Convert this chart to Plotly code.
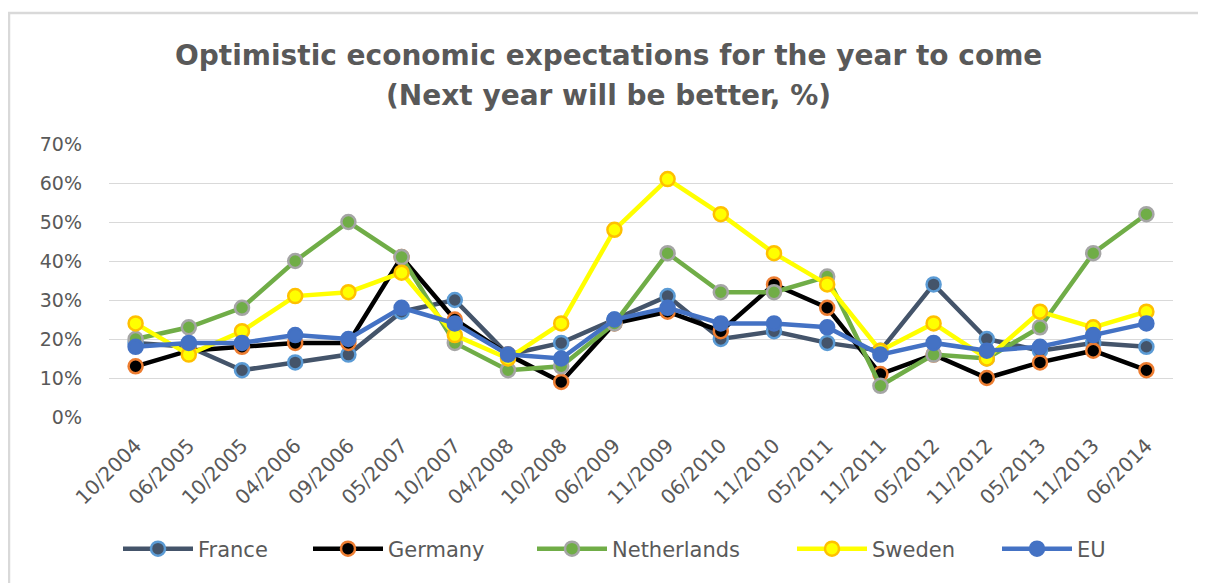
import plotly.graph_objects as go

categories = ["10/2004", "06/2005", "10/2005", "04/2006", "09/2006", "05/2007", "10/2007",
              "04/2008", "10/2008", "06/2009", "11/2009", "06/2010", "11/2010", "05/2011",
              "11/2011", "05/2012", "11/2012", "05/2013", "11/2013", "06/2014"]

france = [19, 18, 12, 14, 16, 27, 30, 16, 19, 25, 31, 20, 22, 19, 17, 34, 20, 17, 19, 18]
germany = [13, 17, 18, 19, 19, 41, 25, 16, 9, 24, 27, 22, 34, 28, 11, 16, 10, 14, 17, 12]
netherlands = [20, 23, 28, 40, 50, 41, 19, 12, 13, 24, 42, 32, 32, 36, 8, 16, 15, 23, 42, 52]
sweden = [24, 16, 22, 31, 32, 37, 21, 15, 24, 48, 61, 52, 42, 34, 17, 24, 15, 27, 23, 27]
eu = [18, 19, 19, 21, 20, 28, 24, 16, 15, 25, 28, 24, 24, 23, 16, 19, 17, 18, 21, 24]

series = [
    ("France", france, "#44546A", "#44546A", "#5B9BD5"),
    ("Germany", germany, "#000000", "#000000", "#ED7D31"),
    ("Netherlands", netherlands, "#70AD47", "#70AD47", "#A5A5A5"),
    ("Sweden", sweden, "#FFFF00", "#FFFF00", "#FFC000"),
    ("EU", eu, "#4472C4", "#4472C4", "#4472C4"),
]
legend_ids = ["legend", "legend2", "legend3", "legend4", "legend5"]
legend_x_page = [120, 310, 534, 794, 999]  # page x where each legend entry starts

OFF = 8  # browser body margin offset
W, H = 1206, 583
L, T = 109 - OFF, 144 - OFF
pw, ph = 1064, 273
R = W - L - pw
B = H - T - ph


def px_x(p):
    return (p - OFF - L) / pw


def px_y(p):
    return (H - B - (p - OFF)) / ph


fig = go.Figure()
for (name, vals, lc, mfill, mline), lid in zip(series, legend_ids):
    fig.add_trace(go.Scatter(
        x=categories, y=[v / 100 for v in vals], name=name, mode="lines+markers",
        line=dict(color=lc, width=4.5),
        marker=dict(size=14, color=mfill, line=dict(color=mline, width=2.5)),
        legend=lid,
    ))

TXT = "#595959"
legends = {}
for lid, lx in zip(legend_ids, legend_x_page):
    legends[lid] = dict(orientation="h", x=px_x(lx - 2), xanchor="left", y=px_y(549),
                        yanchor="middle", font=dict(size=21, color=TXT, family="DejaVu Sans"),
                        itemwidth=70, bgcolor="rgba(0,0,0,0)")

fig.update_layout(
    width=W, height=H,
    margin=dict(l=L, r=R, t=T, b=B),
    paper_bgcolor="white", plot_bgcolor="white",
    font=dict(family="DejaVu Sans", color=TXT),
    showlegend=True,
    xaxis=dict(type="category", range=[-0.5, len(categories) - 0.5], tickangle=-45,
               tickfont=dict(size=20, color=TXT), showgrid=False, showline=False,
               ticks="", ticklabelstandoff=12),
    yaxis=dict(range=[0, 0.7], dtick=0.1, tickformat=".0%", gridcolor="#D9D9D9", gridwidth=1.3,
               tickfont=dict(size=19, color=TXT), zeroline=False, showline=False,
               ticklabelstandoff=26),
    annotations=[
        dict(text="<b>Optimistic economic expectations for the year to come</b>",
             xref="paper", yref="paper", x=px_x(608), y=px_y(55), xanchor="center", yanchor="middle",
             showarrow=False, font=dict(size=28, color=TXT, family="DejaVu Sans")),
        dict(text="<b>(Next year will be better, %)</b>",
             xref="paper", yref="paper", x=px_x(608), y=px_y(96), xanchor="center", yanchor="middle",
             showarrow=False, font=dict(size=28, color=TXT, family="DejaVu Sans")),
    ],
    shapes=[
        dict(type="rect", xref="paper", yref="paper", x0=px_x(9), x1=px_x(1260), y0=px_y(650), y1=px_y(13),
             line=dict(color="#D9D9D9", width=2.5), fillcolor="rgba(0,0,0,0)", layer="below"),
    ],
    **legends,
)

fig.write_html("out.html")
